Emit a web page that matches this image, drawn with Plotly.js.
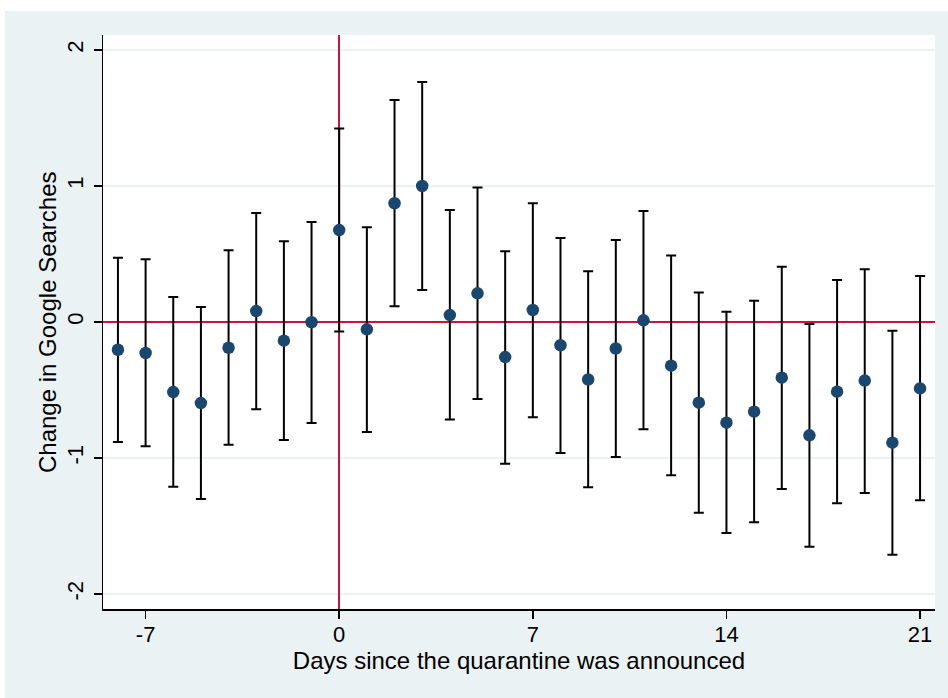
<!DOCTYPE html>
<html>
<head>
<meta charset="utf-8">
<script src="https://cdn.plot.ly/plotly-3.0.1.min.js"></script>
<style>
  html, body { margin: 0; padding: 0; background: #ffffff; }
  #chart { position: absolute; left: 5px; top: 11px; width: 943px; height: 687px; }
</style>
</head>
<body>
<div id="chart"></div>
<script>
// Days relative to quarantine announcement
const days = [-8, -7, -6, -5, -4, -3, -2, -1, 0, 1, 2, 3, 4, 5, 6, 7, 8, 9, 10, 11, 12, 13, 14, 15, 16, 17, 18, 19, 20, 21];
// Point estimates
const estimate = [-0.204, -0.228, -0.515, -0.596, -0.189, 0.080, -0.137, -0.002, 0.676, -0.054, 0.873, 1.000, 0.051, 0.211, -0.258, 0.088, -0.171, -0.423, -0.195, 0.012, -0.321, -0.593, -0.740, -0.659, -0.409, -0.833, -0.512, -0.431, -0.887, -0.488];
// Upper bounds of the confidence intervals
const upper = [0.473, 0.461, 0.184, 0.110, 0.527, 0.801, 0.593, 0.735, 1.422, 0.696, 1.632, 1.765, 0.824, 0.988, 0.520, 0.873, 0.618, 0.373, 0.603, 0.816, 0.488, 0.216, 0.076, 0.157, 0.407, -0.015, 0.309, 0.387, -0.064, 0.338];
// Lower bounds of the confidence intervals
const lower = [-0.882, -0.914, -1.211, -1.301, -0.902, -0.642, -0.868, -0.743, -0.069, -0.809, 0.115, 0.235, -0.716, -0.566, -1.042, -0.701, -0.963, -1.215, -0.993, -0.789, -1.127, -1.402, -1.551, -1.473, -1.228, -1.652, -1.333, -1.257, -1.711, -1.311];
const xTicks = [-7, 0, 7, 14, 21];
const yTicks = [-2, -1, 0, 1, 2];
const xTitle = 'Days since the quarantine was announced';
const yTitle = 'Change in Google Searches';

const errPlus = upper.map((u, i) => u - estimate[i]);
const errMinus = lower.map((l, i) => estimate[i] - l);

const trace = {
  x: days,
  y: estimate,
  type: 'scatter',
  mode: 'markers',
  marker: { color: '#1A476F', size: 12.5 },
  error_y: {
    type: 'data',
    symmetric: false,
    array: errPlus,
    arrayminus: errMinus,
    color: '#000000',
    thickness: 2,
    width: 5
  },
  hoverinfo: 'x+y',
  showlegend: false
};

const fam = 'Liberation Sans, Arial, sans-serif';
const red = '#CE123E';

const layout = {
  width: 943,
  height: 687,
  paper_bgcolor: '#EAF2F3',
  plot_bgcolor: '#FFFFFF',
  margin: { l: 98, r: 13, t: 24, b: 89 },
  font: { family: fam, color: '#000000' },
  showlegend: false,
  xaxis: {
    range: [-8.54, 21.54],
    tickmode: 'array',
    tickvals: xTicks,
    ticktext: xTicks.map(String),
    ticks: 'outside',
    ticklen: 8,
    tickwidth: 1.5,
    tickcolor: '#000000',
    ticklabelstandoff: -3,
    showline: true,
    linecolor: '#000000',
    linewidth: 1.5,
    showgrid: false,
    zeroline: true,
    zerolinecolor: red,
    zerolinewidth: 2,
    tickfont: { family: fam, size: 22, color: '#000000' },
    title: { text: xTitle, font: { family: fam, size: 24, color: '#000000' }, standoff: 0 }
  },
  yaxis: {
    range: [-2.11, 2.11],
    tickmode: 'array',
    tickvals: yTicks,
    ticktext: yTicks.map(String),
    ticks: 'outside',
    ticklen: 8,
    tickwidth: 1.5,
    tickcolor: '#000000',
    tickangle: -90,
    ticklabelstandoff: 2,
    showline: true,
    linecolor: '#000000',
    linewidth: 1.5,
    showgrid: true,
    gridcolor: '#EAF2F3',
    gridwidth: 1.5,
    zeroline: true,
    zerolinecolor: red,
    zerolinewidth: 2,
    tickfont: { family: fam, size: 22, color: '#000000' }
  },
  annotations: [
    { text: yTitle, xref: 'paper', yref: 'paper', x: 0, y: 0.5, xanchor: 'center', yanchor: 'middle',
      xshift: -56, textangle: -90, showarrow: false, font: { family: fam, size: 24, color: '#000000' } }
  ]
};

Plotly.newPlot('chart', [trace], layout, { displayModeBar: false, staticPlot: true });
</script>
</body>
</html>
